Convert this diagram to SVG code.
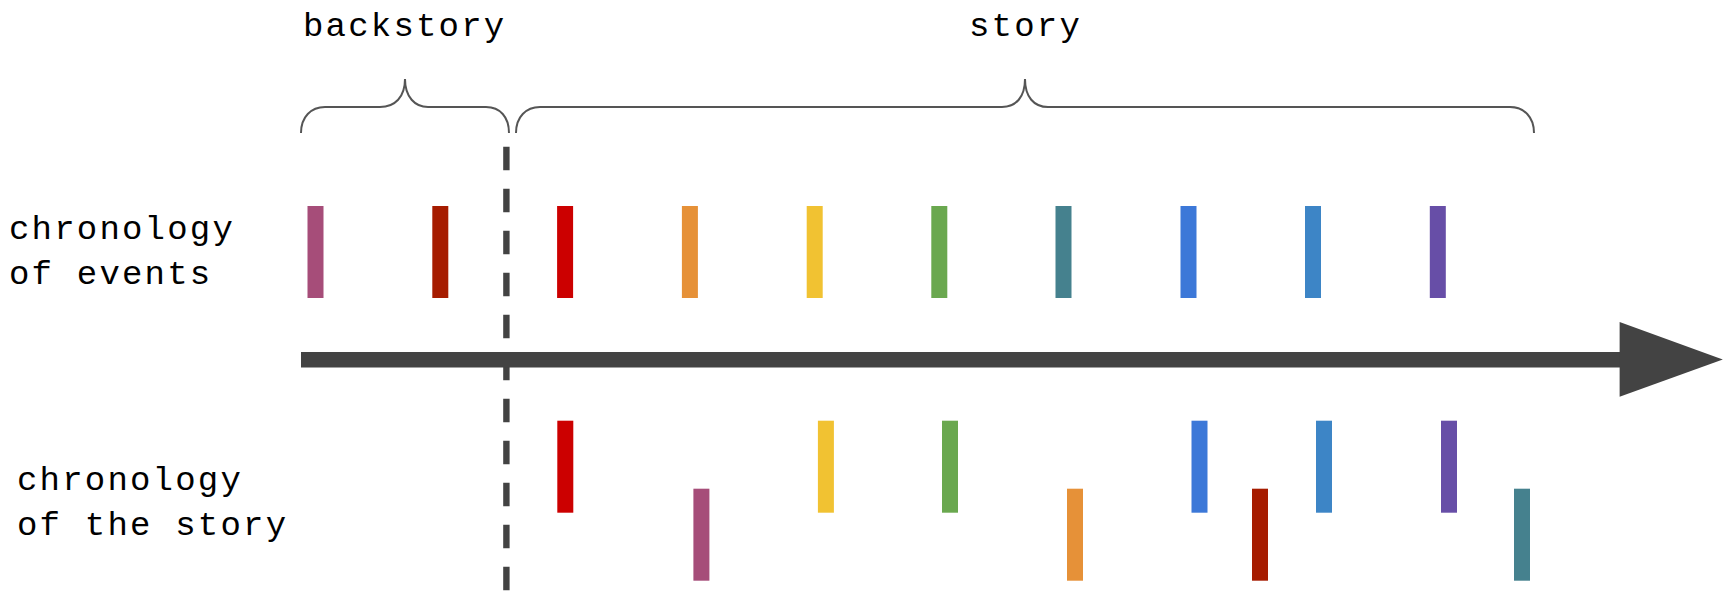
<svg xmlns="http://www.w3.org/2000/svg" width="1729" height="592" viewBox="0 0 1729 592">
<style>
.lbl{font-family:"Liberation Mono","DejaVu Sans Mono",monospace;font-size:34px;letter-spacing:2.2px;fill:#000}
.brace{fill:none;stroke:#555555;stroke-width:2}
.bar{stroke:none}
</style>
<rect width="1729" height="592" fill="#ffffff"/>
<g id="labels">
<text class="lbl" x="303" y="36">backstory</text>
<text class="lbl" x="969" y="36">story</text>
<text class="lbl" x="9" y="239">chronology</text>
<text class="lbl" x="9" y="283.5">of events</text>
<text class="lbl" x="17" y="490">chronology</text>
<text class="lbl" x="17" y="534.5">of the story</text>
</g>
<g id="braces">
<path class="brace" d="M301,133 C301,117 311,107 325,107 L380,107 C395,107 405,97 405,79 C405,97 415,107 428,107 L486,107 C500,107 509,117 509,133"/>
<path class="brace" d="M516,133 C516,117 526,107 540,107 L1002,107 C1016,107 1025,97 1025,79 C1025,97 1034,107 1048,107 L1510,107 C1524,107 1534,117 1534,133"/>
</g>
<g id="connectors">
<line x1="506.4" y1="146.7" x2="506.4" y2="592" stroke="#434343" stroke-width="6.4" stroke-dasharray="23.5 18.5"/>
<rect x="301" y="352" width="1319" height="15.5" fill="#434343"/>
<polygon points="1619.6,322 1722.8,359.5 1619.6,396.7" fill="#434343"/>
</g>
<g id="events">
<rect class="bar" x="307.5" y="206" width="16" height="92" fill="#a64d79"/>
<rect class="bar" x="432.3" y="206" width="16" height="92" fill="#a61c00"/>
<rect class="bar" x="557.1" y="206" width="16" height="92" fill="#cc0000"/>
<rect class="bar" x="681.9" y="206" width="16" height="92" fill="#e69138"/>
<rect class="bar" x="806.7" y="206" width="16" height="92" fill="#f1c232"/>
<rect class="bar" x="931.3" y="206" width="16" height="92" fill="#6aa84f"/>
<rect class="bar" x="1055.5" y="206" width="16" height="92" fill="#45818e"/>
<rect class="bar" x="1180.5" y="206" width="16" height="92" fill="#3c78d8"/>
<rect class="bar" x="1305" y="206" width="16" height="92" fill="#3d85c6"/>
<rect class="bar" x="1429.8" y="206" width="16" height="92" fill="#674ea7"/>
</g>
<g id="story">
<rect class="bar" x="557.3" y="420.7" width="16" height="92" fill="#cc0000"/>
<rect class="bar" x="693.4" y="488.7" width="16" height="92" fill="#a64d79"/>
<rect class="bar" x="817.9" y="420.7" width="16" height="92" fill="#f1c232"/>
<rect class="bar" x="942" y="420.7" width="16" height="92" fill="#6aa84f"/>
<rect class="bar" x="1067" y="488.7" width="16" height="92" fill="#e69138"/>
<rect class="bar" x="1191.5" y="420.7" width="16" height="92" fill="#3c78d8"/>
<rect class="bar" x="1252" y="488.7" width="16" height="92" fill="#a61c00"/>
<rect class="bar" x="1316" y="420.7" width="16" height="92" fill="#3d85c6"/>
<rect class="bar" x="1441" y="420.7" width="16" height="92" fill="#674ea7"/>
<rect class="bar" x="1514" y="488.7" width="16" height="92" fill="#45818e"/>
</g>
</svg>
